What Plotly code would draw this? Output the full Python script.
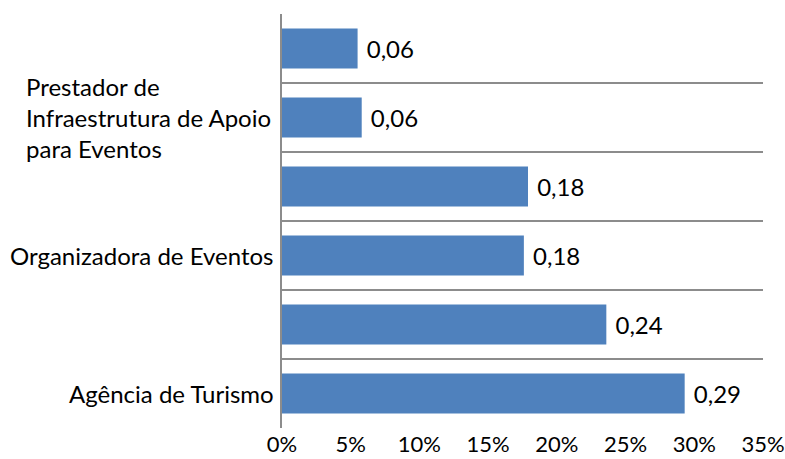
import plotly.graph_objects as go

# Categories from bottom to top (only every other label is shown in the reference)
categories = ["Agência de Turismo", "", "Organizadora de Eventos", "",
              "Prestador de<br>Infraestrutura de Apoio<br>para Eventos", ""]
values = [0.293, 0.236, 0.176, 0.179, 0.058, 0.055]
x_tick_vals = [0, 0.05, 0.10, 0.15, 0.20, 0.25, 0.30, 0.35]

positions = list(range(len(categories)))
FONT = "Lato, Carlito, Calibri, sans-serif"
FS = 24

fig = go.Figure(go.Bar(
    x=values, y=positions, orientation="h",
    marker=dict(color="#4F81BD", line=dict(width=0)),
    width=0.58,
    text=values, texttemplate="\u00a0%{x:.2f}", textposition="outside",
    textfont=dict(family=FONT, size=FS, color="#000000"),
    cliponaxis=False,
))

for pos, name in zip(positions, categories):
    if not name:
        continue
    if "<br>" in name:
        # multi-line label: left-aligned block
        fig.add_annotation(
            x=0, xref="paper", xanchor="left", xshift=-258,
            y=pos, yref="y", yanchor="middle",
            text=name, showarrow=False, align="left",
            font=dict(family=FONT, size=FS, color="#000000"),
        )
    else:
        fig.add_annotation(
            x=0, xref="paper", xanchor="right", xshift=-6,
            y=pos, yref="y", yanchor="middle",
            text=name, showarrow=False,
            font=dict(family=FONT, size=FS, color="#000000"),
        )

fig.update_layout(
    width=785, height=459,
    margin=dict(l=282, r=22, t=14, b=31),
    plot_bgcolor="white", paper_bgcolor="white",
    separators=",.",
    showlegend=False,
)
fig.update_xaxes(
    range=[0, 0.35], tickvals=x_tick_vals, tickformat=".0%",
    showgrid=False, zeroline=False, showline=False,
    ticks="", ticklabeloverflow="allow", automargin=False,
    ticklabelstandoff=1,
    tickfont=dict(family=FONT, size=22, color="#000000"),
)
fig.update_yaxes(
    range=[-0.5, 5.5], tickvals=positions, showticklabels=False,
    showgrid=False, zeroline=False, automargin=False,
    showline=True, linecolor="#8C8C8C", linewidth=2,
    minor=dict(tick0=0.5, dtick=1, showgrid=True, gridcolor="#8C8C8C", gridwidth=2),
)

fig.write_html(
    "out.html",
    config={"displayModeBar": False, "responsive": False},
    post_script=(
        "document.body.style.margin='0px';"
        "document.documentElement.style.overflow='hidden';"
        "document.body.style.overflow='hidden';"
    ),
)
